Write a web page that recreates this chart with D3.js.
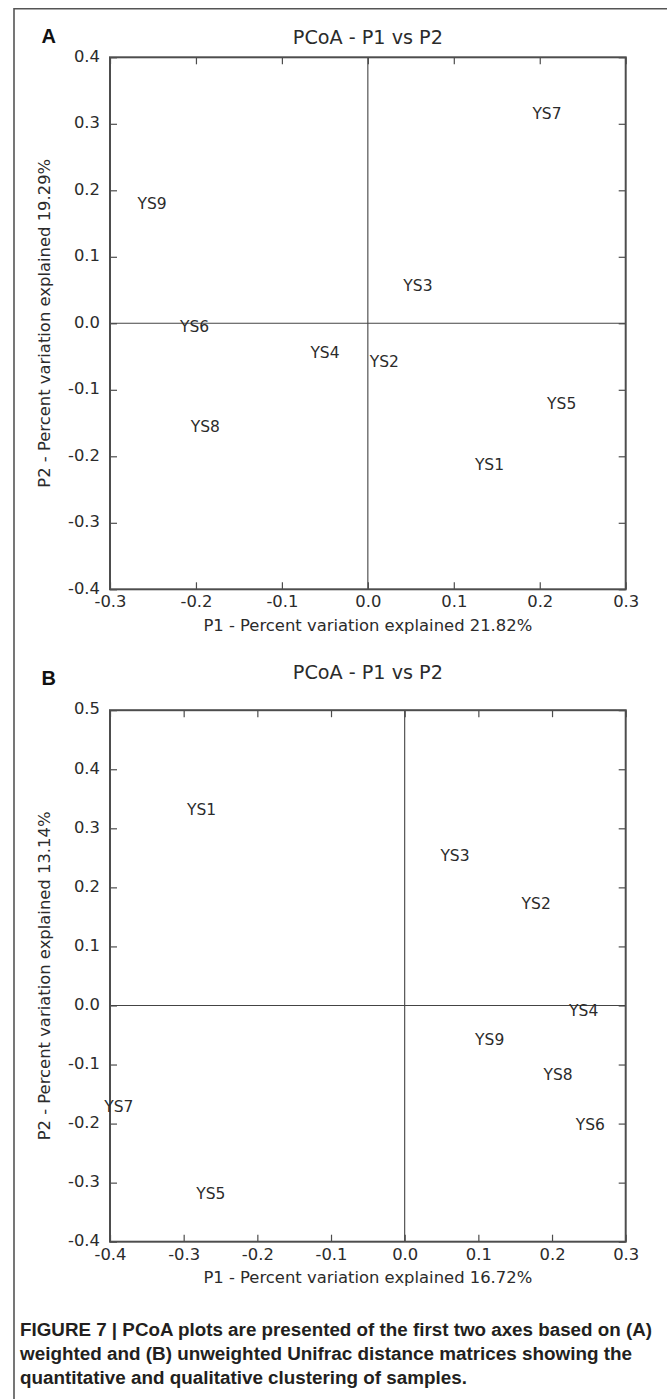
<!DOCTYPE html>
<html>
<head>
<meta charset="utf-8">
<script src="https://cdn.jsdelivr.net/npm/d3@7/dist/d3.min.js"></script>
<style>
  html, body { margin: 0; padding: 0; background: #fff; }
  svg { display: block; }
  .tick text { font-family: "DejaVu Sans", sans-serif; font-size: 16.4px; fill: #2b2b2b; }
</style>
</head>
<body>
<div id="chart"></div>
<script>
/* PCoA - P1 vs P2, dos paneles (A: weighted, B: unweighted) */

// ---- datos
const SAMPLES = ['YS1', 'YS2', 'YS3', 'YS4', 'YS5', 'YS6', 'YS7', 'YS8', 'YS9'];

const P1_A = [0.1415, 0.0192, 0.0583, -0.0499, 0.2255, -0.2015, 0.2084, -0.189, -0.251];
const P2_A = [-0.2116, -0.0577, 0.0563, -0.0436, -0.1203, -0.004, 0.315, -0.1545, 0.181];

const P1_B = [-0.2756, 0.1785, 0.0683, 0.243, -0.2632, 0.252, -0.388, 0.2083, 0.1154];
const P2_B = [0.3315, 0.1736, 0.2548, -0.0081, -0.318, -0.2015, -0.1707, -0.1168, -0.0579];

const X_TICKS_A = [-0.3, -0.2, -0.1, 0.0, 0.1, 0.2, 0.3];
const Y_TICKS_A = [-0.4, -0.3, -0.2, -0.1, 0.0, 0.1, 0.2, 0.3, 0.4];
const X_TICKS_B = [-0.4, -0.3, -0.2, -0.1, 0.0, 0.1, 0.2, 0.3];
const Y_TICKS_B = [-0.4, -0.3, -0.2, -0.1, 0.0, 0.1, 0.2, 0.3, 0.4, 0.5];

const TITLE = 'PCoA - P1 vs P2';
const XLAB_A = 'P1 - Percent variation explained 21.82%';
const YLAB_A = 'P2 - Percent variation explained 19.29%';
const XLAB_B = 'P1 - Percent variation explained 16.72%';
const YLAB_B = 'P2 - Percent variation explained 13.14%';

const CAPTION = [
  'FIGURE 7 | PCoA plots are presented of the first two axes based on (A)',
  'weighted and (B) unweighted Unifrac distance matrices showing the',
  'quantitative and qualitative clustering of samples.'
];
const CAPTION_W = [632, 612, 447];   // ancho medido de cada línea

// ---- lienzo
const W = 667, H = 1399;
const FONT = '"DejaVu Sans", sans-serif';
const INK = '#2b2b2b';
const FRAME = '#4d4d4d';

const svg = d3.select('#chart').append('svg')
  .attr('width', W).attr('height', H)
  .attr('viewBox', [0, 0, W, H]);

svg.append('rect').attr('width', W).attr('height', H).attr('fill', '#fff');

// marco de la figura (solo arriba e izquierda)
svg.append('path')
  .attr('d', `M14,${H} L14,8.7 L${W},8.7`)
  .attr('fill', 'none')
  .attr('stroke', '#555')
  .attr('stroke-width', 1.6);

const fmt = d => d.toFixed(1);

function drawPanel (o) {
  const x = d3.scaleLinear(o.xDom, [o.left, o.right]);
  const y = d3.scaleLinear(o.yDom, [o.bottom, o.top]);
  const g = svg.append('g');
  const TK = 7;

  // ejes con ticks hacia dentro en los cuatro lados
  g.append('g').attr('transform', `translate(0,${o.bottom})`)
    .call(d3.axisBottom(x).tickValues(o.xTicks).tickFormat(fmt).tickSize(-TK).tickPadding(6.4))
    .call(a => a.select('.domain').remove());
  g.append('g').attr('transform', `translate(0,${o.top})`)
    .call(d3.axisTop(x).tickValues(o.xTicks).tickFormat('').tickSize(-TK))
    .call(a => a.select('.domain').remove());
  g.append('g').attr('transform', `translate(${o.left},0)`)
    .call(d3.axisLeft(y).tickValues(o.yTicks).tickFormat(fmt).tickSize(-TK).tickPadding(10))
    .call(a => a.select('.domain').remove())
    .call(a => a.selectAll('.tick text').attr('dy', '0.23em'));
  g.append('g').attr('transform', `translate(${o.right},0)`)
    .call(d3.axisRight(y).tickValues(o.yTicks).tickFormat('').tickSize(-TK))
    .call(a => a.select('.domain').remove());
  g.selectAll('.tick line').attr('stroke', FRAME).attr('stroke-width', 1.2);

  // líneas del cero
  g.append('line')
    .attr('x1', x(0)).attr('x2', x(0)).attr('y1', o.top).attr('y2', o.bottom)
    .attr('stroke', '#444').attr('stroke-width', 1.1);
  g.append('line')
    .attr('x1', o.left).attr('x2', o.right).attr('y1', y(0)).attr('y2', y(0))
    .attr('stroke', '#444').attr('stroke-width', 1.1);

  // marco del gráfico
  g.append('rect')
    .attr('x', o.left).attr('y', o.top)
    .attr('width', o.right - o.left).attr('height', o.bottom - o.top)
    .attr('fill', 'none').attr('stroke', FRAME).attr('stroke-width', 2);

  // etiquetas de muestras
  const pts = SAMPLES.map((s, i) => ({ s, px: o.p1[i], py: o.p2[i] }));
  g.append('g').selectAll('text')
    .data(pts)
    .join('text')
      .attr('x', d => x(d.px))
      .attr('y', d => y(d.py))
      .attr('dy', '0.36em')
      .attr('text-anchor', 'middle')
      .attr('font-family', FONT)
      .attr('font-size', 15.5)
      .attr('fill', INK)
      .text(d => d.s);

  // títulos
  const cx = (o.left + o.right) / 2;
  g.append('text')
    .attr('x', cx).attr('y', o.titleY)
    .attr('text-anchor', 'middle')
    .attr('font-family', FONT).attr('font-size', 19.2).attr('fill', INK)
    .text(TITLE);
  g.append('text')
    .attr('x', cx).attr('y', o.bottom + 41.7)
    .attr('text-anchor', 'middle')
    .attr('font-family', FONT).attr('font-size', 16.4).attr('fill', INK)
    .text(o.xLab);
  g.append('text')
    .attr('transform', `translate(50,${(o.top + o.bottom) / 2}) rotate(-90)`)
    .attr('text-anchor', 'middle')
    .attr('font-family', FONT).attr('font-size', 16.4).attr('fill', INK)
    .text(o.yLab);

  // letra del panel
  g.append('text')
    .attr('x', 41.5).attr('y', o.letterY)
    .attr('font-family', '"Liberation Sans", Arial, sans-serif')
    .attr('font-weight', 'bold').attr('font-size', 20).attr('fill', '#111')
    .text(o.letter);
}

drawPanel({
  letter: 'A', letterY: 43.3, titleY: 44,
  left: 110, right: 625.7, top: 57.3, bottom: 589.3,
  xDom: [-0.3, 0.3], yDom: [-0.4, 0.4],
  xTicks: X_TICKS_A, yTicks: Y_TICKS_A,
  p1: P1_A, p2: P2_A, xLab: XLAB_A, yLab: YLAB_A
});

drawPanel({
  letter: 'B', letterY: 685, titleY: 679,
  left: 110, right: 625.7, top: 710.2, bottom: 1241.7,
  xDom: [-0.4, 0.3], yDom: [-0.4, 0.5],
  xTicks: X_TICKS_B, yTicks: Y_TICKS_B,
  p1: P1_B, p2: P2_B, xLab: XLAB_B, yLab: YLAB_B
});

// pie de figura
svg.append('g').selectAll('text')
  .data(CAPTION)
  .join('text')
    .attr('x', 20)
    .attr('y', (d, i) => 1336 + i * 24)
    .attr('font-family', '"Liberation Sans", Arial, sans-serif')
    .attr('font-weight', 'bold')
    .attr('font-size', 17.5)
    .attr('fill', '#231f20')
    .attr('textLength', (d, i) => CAPTION_W[i])
    .attr('lengthAdjust', 'spacingAndGlyphs')
    .text(d => d);
</script>
</body>
</html>
